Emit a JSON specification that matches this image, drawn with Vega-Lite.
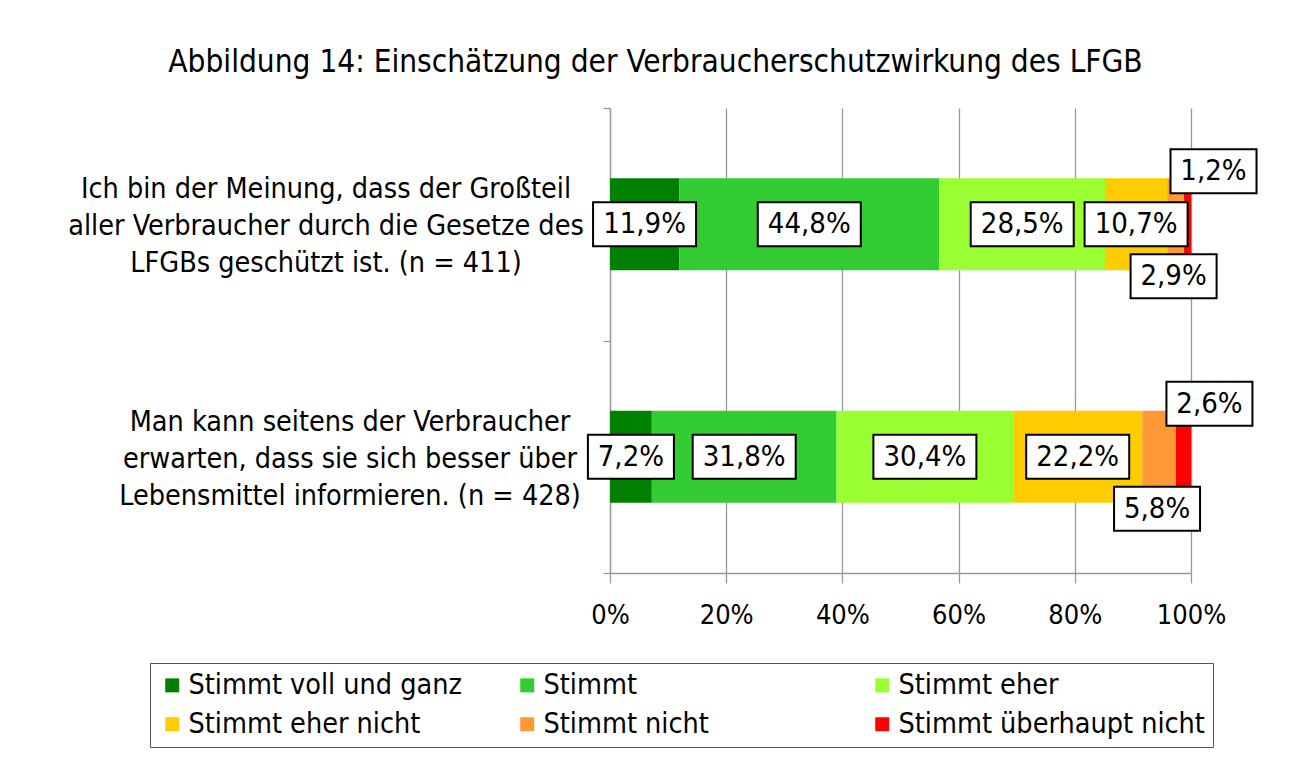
{
  "$schema": "https://vega.github.io/schema/vega-lite/v6.json",
  "width": 581,
  "height": 465,
  "autosize": {"type": "none"},
  "padding": {"left": 610, "top": 108, "right": 108, "bottom": 196},
  "background": "white",
  "config": {
    "locale": {"number": {"decimal": ",", "thousands": ".", "grouping": [3], "currency": ["", " €"]}},
    "view": {"stroke": null},
    "font": "DejaVu Sans Condensed"
  },
  "title": {
    "text": "Abbildung 14: Einschätzung der Verbraucherschutzwirkung des LFGB",
    "fontSize": 31.3,
    "fontWeight": "normal",
    "font": "DejaVu Sans Condensed",
    "color": "black",
    "anchor": "middle",
    "frame": "group",
    "dx": -245,
    "offset": 2,
    "baseline": "alphabetic"
  },
  "data": {
    "values": [
      {"question": "Ich bin der Meinung, dass der Großteil|aller Verbraucher durch die Gesetze des|LFGBs geschützt ist. (n = 411)", "category": "Stimmt voll und ganz", "order": 1, "value": 0.119},
      {"question": "Ich bin der Meinung, dass der Großteil|aller Verbraucher durch die Gesetze des|LFGBs geschützt ist. (n = 411)", "category": "Stimmt", "order": 2, "value": 0.448},
      {"question": "Ich bin der Meinung, dass der Großteil|aller Verbraucher durch die Gesetze des|LFGBs geschützt ist. (n = 411)", "category": "Stimmt eher", "order": 3, "value": 0.285},
      {"question": "Ich bin der Meinung, dass der Großteil|aller Verbraucher durch die Gesetze des|LFGBs geschützt ist. (n = 411)", "category": "Stimmt eher nicht", "order": 4, "value": 0.107},
      {"question": "Ich bin der Meinung, dass der Großteil|aller Verbraucher durch die Gesetze des|LFGBs geschützt ist. (n = 411)", "category": "Stimmt nicht", "order": 5, "value": 0.029},
      {"question": "Ich bin der Meinung, dass der Großteil|aller Verbraucher durch die Gesetze des|LFGBs geschützt ist. (n = 411)", "category": "Stimmt überhaupt nicht", "order": 6, "value": 0.012},
      {"question": "Man kann seitens der Verbraucher|erwarten, dass sie sich besser über|Lebensmittel informieren. (n = 428)", "category": "Stimmt voll und ganz", "order": 1, "value": 0.072},
      {"question": "Man kann seitens der Verbraucher|erwarten, dass sie sich besser über|Lebensmittel informieren. (n = 428)", "category": "Stimmt", "order": 2, "value": 0.318},
      {"question": "Man kann seitens der Verbraucher|erwarten, dass sie sich besser über|Lebensmittel informieren. (n = 428)", "category": "Stimmt eher", "order": 3, "value": 0.304},
      {"question": "Man kann seitens der Verbraucher|erwarten, dass sie sich besser über|Lebensmittel informieren. (n = 428)", "category": "Stimmt eher nicht", "order": 4, "value": 0.222},
      {"question": "Man kann seitens der Verbraucher|erwarten, dass sie sich besser über|Lebensmittel informieren. (n = 428)", "category": "Stimmt nicht", "order": 5, "value": 0.058},
      {"question": "Man kann seitens der Verbraucher|erwarten, dass sie sich besser über|Lebensmittel informieren. (n = 428)", "category": "Stimmt überhaupt nicht", "order": 6, "value": 0.026}
    ]
  },
  "transform": [
    {"stack": "value", "groupby": ["question"], "sort": [{"field": "order"}], "as": ["v0", "v1"]},
    {"calculate": "(datum.v0 + datum.v1) / 2", "as": "mid"}
  ],
  "resolve": {"scale": {"y": "independent"}, "axis": {"y": "independent"}},
  "layer": [
    {
      "layer": [
        {
          "mark": {"type": "bar"},
          "encoding": {
            "y": {
              "field": "question", "type": "nominal", "sort": null,
              "scale": {"paddingInner": 0.604, "paddingOuter": 0.302},
              "axis": {
                "title": null,
                "orient": "left",
                "labels": false,
                "ticks": false,
                "domainColor": "#999999",
                "domainWidth": 1.3,
                "grid": false
              }
            },
            "x": {
              "field": "v0", "type": "quantitative",
              "scale": {"domain": [0, 1]},
              "axis": {
                "title": null,
                "format": ".0%",
                "values": [0, 0.2, 0.4, 0.6, 0.8, 1],
                "grid": true,
                "gridColor": "#999999",
                "gridWidth": 1.3,
                "domainColor": "#999999",
                "domainWidth": 1.3,
                "tickColor": "#999999",
                "tickWidth": 1.3,
                "tickSize": 10,
                "labelFontSize": 27,
                "labelColor": "black",
                "labelPadding": 19,
                "labelFlush": false
              }
            },
            "x2": {"field": "v1"},
            "color": {
              "field": "category", "type": "nominal",
              "scale": {
                "domain": ["Stimmt voll und ganz", "Stimmt", "Stimmt eher", "Stimmt eher nicht", "Stimmt nicht", "Stimmt überhaupt nicht"],
                "range": ["#008000", "#33CC33", "#99FF33", "#FFCC00", "#FF9933", "#FF0000"]
              },
              "legend": {
                "orient": "none",
                "legendX": -460,
                "legendY": 555,
                "title": null,
                "columns": 3,
                "direction": "horizontal",
                "gridAlign": "all",
                "symbolType": "square",
                "symbolSize": 196,
                "symbolStrokeWidth": 0,
                "symbolOpacity": 1,
                "labelFontSize": 28.5,
                "labelColor": "black",
                "labelLimit": 0,
                "labelOffset": 2,
                "strokeColor": "#555555",
                "fillColor": "white",
                "padding": 8,
                "columnPadding": 18,
                "rowPadding": 10
              }
            }
          }
        },
        {
          "transform": [{"filter": "indexof(datum.question, 'Ich') == 0 && datum.order == 1"}],
          "mark": {"type": "text", "fontSize": 28.5, "color": "black", "align": "center", "baseline": "middle", "lineBreak": "|", "lineHeight": 37, "dx": -284, "dy": -35},
          "encoding": {
            "x": {"datum": 0, "type": "quantitative"},
            "y": {"field": "question", "type": "nominal", "sort": null},
            "text": {"field": "question"}
          }
        },
        {
          "transform": [{"filter": "indexof(datum.question, 'Man') == 0 && datum.order == 1"}],
          "mark": {"type": "text", "fontSize": 28.5, "color": "black", "align": "center", "baseline": "middle", "lineBreak": "|", "lineHeight": 37, "dx": -260, "dy": -35},
          "encoding": {
            "x": {"datum": 0, "type": "quantitative"},
            "y": {"field": "question", "type": "nominal", "sort": null},
            "text": {"field": "question"}
          }
        },
        {
          "transform": [{"filter": "datum.category != 'Stimmt nicht' && datum.category != 'Stimmt überhaupt nicht'"}],
          "layer": [
            {
              "mark": {"type": "point", "filled": true, "fill": "white", "stroke": "black", "strokeWidth": 2, "opacity": 1, "fillOpacity": 1},
              "encoding": {
                "x": {"field": "mid", "type": "quantitative"},
                "y": {"field": "question", "type": "nominal", "sort": null},
                "size": {"condition": {"test": "datum.value >= 0.1", "value": 10609}, "value": 7396},
                "shape": {"condition": {"test": "datum.value >= 0.1", "value": "M-1,-0.427H1V0.427H-1Z"}, "value": "M-1,-0.512H1V0.512H-1Z"}
              }
            },
            {
              "mark": {"type": "text", "fontSize": 29, "color": "black", "baseline": "middle", "align": "center"},
              "encoding": {
                "x": {"field": "mid", "type": "quantitative"},
                "y": {"field": "question", "type": "nominal", "sort": null},
                "text": {"field": "value", "type": "quantitative", "format": ".1%"}
              }
            }
          ]
        },
        {
          "transform": [{"filter": "datum.category == 'Stimmt nicht'"}],
          "layer": [
            {
              "mark": {"type": "point", "filled": true, "fill": "white", "stroke": "black", "strokeWidth": 2, "opacity": 1, "fillOpacity": 1, "xOffset": -2, "yOffset": 52},
              "encoding": {
                "x": {"field": "mid", "type": "quantitative"},
                "y": {"field": "question", "type": "nominal", "sort": null},
                "size": {"value": 7396},
                "shape": {"value": "M-1,-0.512H1V0.512H-1Z"}
              }
            },
            {
              "mark": {"type": "text", "fontSize": 29, "color": "black", "baseline": "middle", "align": "center", "xOffset": -2, "yOffset": 52},
              "encoding": {
                "x": {"field": "mid", "type": "quantitative"},
                "y": {"field": "question", "type": "nominal", "sort": null},
                "text": {"field": "value", "type": "quantitative", "format": ".1%"}
              }
            }
          ]
        },
        {
          "transform": [{"filter": "datum.category == 'Stimmt überhaupt nicht'"}],
          "layer": [
            {
              "mark": {"type": "point", "filled": true, "fill": "white", "stroke": "black", "strokeWidth": 2, "opacity": 1, "fillOpacity": 1, "xOffset": 26, "yOffset": -53},
              "encoding": {
                "x": {"field": "mid", "type": "quantitative"},
                "y": {"field": "question", "type": "nominal", "sort": null},
                "size": {"value": 7396},
                "shape": {"value": "M-1,-0.512H1V0.512H-1Z"}
              }
            },
            {
              "mark": {"type": "text", "fontSize": 29, "color": "black", "baseline": "middle", "align": "center", "xOffset": 26, "yOffset": -53},
              "encoding": {
                "x": {"field": "mid", "type": "quantitative"},
                "y": {"field": "question", "type": "nominal", "sort": null},
                "text": {"field": "value", "type": "quantitative", "format": ".1%"}
              }
            }
          ]
        }
      ]
    },
    {
      "transform": [{"filter": "datum.order <= 2"}],
      "mark": {"type": "point", "opacity": 0},
      "encoding": {
        "y": {
          "field": "order", "type": "quantitative",
          "scale": {"domain": [0, 2], "nice": false, "zero": false},
          "axis": {
            "orient": "left",
            "title": null,
            "values": [0, 1, 2],
            "labels": false,
            "domain": false,
            "grid": false,
            "tickSize": 7,
            "tickColor": "#999999",
            "tickWidth": 1.3
          }
        }
      }
    }
  ]
}
